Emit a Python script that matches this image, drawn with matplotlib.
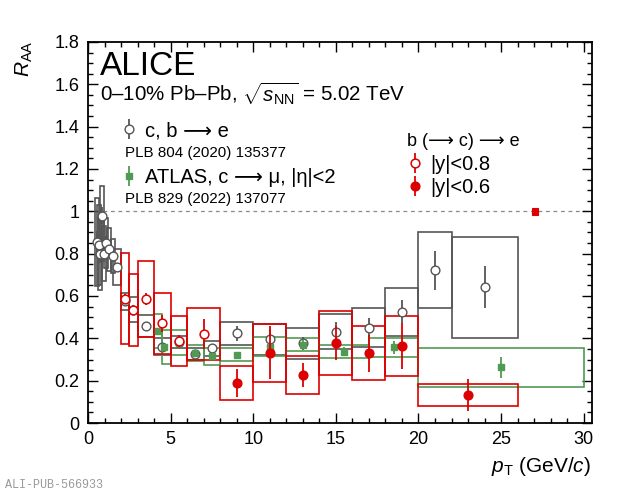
import numpy as np
import matplotlib
matplotlib.use("Agg")
import matplotlib.pyplot as plt
from matplotlib.patches import Rectangle
from matplotlib.ticker import MultipleLocator

plt.rcParams['font.family'] = ['Liberation Sans', 'DejaVu Sans']
plt.rcParams['mathtext.fontset'] = 'custom'
plt.rcParams['mathtext.rm'] = 'Liberation Sans'
plt.rcParams['mathtext.it'] = 'Liberation Sans:italic'
plt.rcParams['mathtext.bf'] = 'Liberation Sans:bold'

# ---------------------------------------------------------------------------
# Data
# ---------------------------------------------------------------------------

# ALICE c, b -> e  (PLB 804 (2020) 135377)
cb_pt   = [0.55, 0.65, 0.75, 0.85, 0.95, 1.1, 1.3, 1.5, 1.75, 2.25, 2.75, 3.5,
           4.5, 5.5, 6.5, 7.5, 9, 11, 13, 15, 17, 19, 21, 24]
cb_lo   = [0.43, 0.53, 0.63, 0.73, 0.83, 0.98, 1.18, 1.38, 1.5, 2.0, 2.5, 3.0,
           4.0, 5.0, 6.0, 7.0, 8, 10, 12, 14, 16, 18, 20, 22]
cb_hi   = [0.67, 0.77, 0.87, 0.97, 1.07, 1.22, 1.42, 1.62, 2.0, 2.5, 3.0, 4.0,
           5.0, 6.0, 7.0, 8.0, 10, 12, 14, 16, 18, 20, 22, 26]
cb_raa  = [0.855, 0.84, 0.80, 0.98, 0.80, 0.85, 0.82, 0.79, 0.735, 0.575, 0.535,
           0.458, 0.36, 0.382, 0.326, 0.353, 0.424, 0.395, 0.376, 0.431, 0.45,
           0.526, 0.721, 0.641]
cb_stat = [0.05, 0.05, 0.045, 0.04, 0.04, 0.035, 0.03, 0.03, 0.02, 0.02, 0.02,
           0.015, 0.015, 0.015, 0.015, 0.02, 0.035, 0.05, 0.03, 0.045, 0.045,
           0.055, 0.093, 0.1]
cb_sys  = [0.21, 0.19, 0.17, 0.14, 0.13, 0.12, 0.10, 0.08, 0.085, 0.04, 0.06,
           0.05, 0.04, 0.03, 0.03, 0.035, 0.055, 0.075, 0.072, 0.082, 0.093,
           0.114, 0.179, 0.239]

# ATLAS c -> mu, |eta|<2  (PLB 829 (2022) 137077)
at_pt   = [4.25, 4.6, 5.5, 6.5, 7.5, 9, 11, 13, 15.5, 18.5, 25]
at_lo   = [4.0, 4.5, 5.0, 6.0, 7.0, 8, 10, 12, 14, 17, 20]
at_hi   = [4.5, 5.0, 6.0, 7.0, 8.0, 10, 12, 14, 17, 20, 30]
at_raa  = [0.436, 0.36, 0.38, 0.33, 0.315, 0.323, 0.36, 0.37, 0.337, 0.357, 0.263]
at_stat = [0.01, 0.01, 0.01, 0.01, 0.01, 0.012, 0.015, 0.02, 0.02, 0.03, 0.05]
at_sys  = [0.08, 0.08, 0.06, 0.039, 0.04, 0.03, 0.045, 0.03, 0.03, 0.044, 0.092]

# ALICE b (-> c) -> e, |y|<0.8
b8_pt   = [2.25, 2.75, 3.5, 4.5, 5.5, 7.0]
b8_lo   = [2.0, 2.5, 3.0, 4.0, 5.0, 6.0]
b8_hi   = [2.5, 3.0, 4.0, 5.0, 6.0, 8.0]
b8_raa  = [0.586, 0.534, 0.586, 0.471, 0.387, 0.419]
b8_stat = [0.025, 0.025, 0.03, 0.04, 0.03, 0.07]
b8_sys  = [0.215, 0.17, 0.18, 0.145, 0.12, 0.122]

# ALICE b (-> c) -> e, |y|<0.6
b6_pt   = [9, 11, 13, 15, 17, 19, 23]
b6_lo   = [8, 10, 12, 14, 16, 18, 20]
b6_hi   = [10, 12, 14, 16, 18, 20, 26]
b6_raa  = [0.19, 0.332, 0.227, 0.379, 0.329, 0.364, 0.132]
b6_stat = [0.067, 0.126, 0.055, 0.079, 0.087, 0.11, 0.075]
b6_sys  = [0.08, 0.136, 0.09, 0.15, 0.128, 0.14, 0.05]

norm_pt  = 27.05
norm_unc = 0.018

GREY  = '#555555'
GREEN = '#519a51'
RED   = '#dd0000'
ARROW = '\u27f6'

# ---------------------------------------------------------------------------
# Plot
# ---------------------------------------------------------------------------

fig = plt.figure(figsize=(6.2, 4.94), dpi=100)
ax = fig.add_axes([88/620, 71/494, 504/620, 381/494])


def sys_boxes(lo, hi, y, sys, color, z):
    for l, h, v, s in zip(lo, hi, y, sys):
        ax.add_patch(Rectangle((l, v - s), h - l, 2 * s, fill=False,
                               edgecolor=color, lw=1.2, zorder=z))


sys_boxes(cb_lo, cb_hi, cb_raa, cb_sys, GREY, 2)
sys_boxes(at_lo, at_hi, at_raa, at_sys, GREEN, 2.2)
sys_boxes(b8_lo, b8_hi, b8_raa, b8_sys, RED, 2.4)
sys_boxes(b6_lo, b6_hi, b6_raa, b6_sys, RED, 2.4)

ax.axhline(1.0, color='#888888', lw=0.9, ls=(0, (3, 3)), zorder=1)
ax.add_patch(Rectangle((norm_pt - 0.2, 1 - norm_unc), 0.4, 2 * norm_unc,
                       facecolor=RED, edgecolor=RED, lw=0.8, zorder=3))

h_cb = ax.errorbar(cb_pt, cb_raa, yerr=cb_stat, fmt='o', ms=6.3, mfc='white',
                   mec=GREY, mew=1.0, ecolor=GREY, elinewidth=1.3, capsize=0,
                   zorder=4)
h_at = ax.errorbar(at_pt, at_raa, yerr=at_stat, fmt='s', ms=5, mfc=GREEN,
                   mec=GREEN, ecolor=GREEN, elinewidth=1.3, capsize=0, zorder=5)
h_b8 = ax.errorbar(b8_pt, b8_raa, yerr=b8_stat, fmt='o', ms=6.3, mfc='white',
                   mec=RED, mew=1.1, ecolor=RED, elinewidth=1.3, capsize=0,
                   zorder=6)
h_b6 = ax.errorbar(b6_pt, b6_raa, yerr=b6_stat, fmt='o', ms=6.3, mfc=RED,
                   mec=RED, ecolor=RED, elinewidth=1.3, capsize=0, zorder=6)

ax.set_xlim(0, 30.5)
ax.set_ylim(0, 1.8)
ax.xaxis.set_major_locator(MultipleLocator(5))
ax.xaxis.set_minor_locator(MultipleLocator(1))
ax.yaxis.set_major_locator(MultipleLocator(0.2))
ax.yaxis.set_minor_locator(MultipleLocator(0.05))
ax.set_yticks(np.arange(0, 1.81, 0.2))
ax.set_yticklabels(['0', '0.2', '0.4', '0.6', '0.8', '1', '1.2', '1.4', '1.6', '1.8'])
ax.tick_params(which='both', direction='in', top=True, right=True,
               labelsize=13, width=1.0)
ax.tick_params(which='major', length=7, pad=6)
ax.tick_params(which='minor', length=3.5)
for sp in ax.spines.values():
    sp.set_linewidth(1.3)

fig.text(24/620, 1 - 40/494, r'$R_{\mathrm{AA}}$', rotation=90, ha='center',
         va='top', fontsize=15)
fig.text(591/620, 1 - 472/494, r'$p_{\mathrm{T}}$ (GeV/$c$)', ha='right',
         va='baseline', fontsize=15)
fig.text(5/620, 1 - 488/494, 'ALI-PUB-566933', fontsize=8.5,
         family='Liberation Mono', color='#9a9a9a', va='baseline')

ax.text(0.024, 0.913, 'ALICE', transform=ax.transAxes, fontsize=24,
        va='baseline')
ax.text(0.024, 0.845, r'0–10% Pb–Pb, $\sqrt{s_{\mathrm{NN}}}$ = 5.02 TeV',
        transform=ax.transAxes, fontsize=14.8, va='baseline')

leg1 = ax.legend([h_cb, h_at],
                 [f'c, b {ARROW} e', f'ATLAS, c {ARROW} μ, |η|<2'],
                 loc='upper left', bbox_to_anchor=(0.0615, 0.792),
                 frameon=False, fontsize=14.5, borderpad=0, handlelength=1.0,
                 handletextpad=0.3, labelspacing=1.4, borderaxespad=0)
ax.add_artist(leg1)
ax.text(0.073, 0.708, 'PLB 804 (2020) 135377', transform=ax.transAxes,
        fontsize=10.9, va='center')
ax.text(0.073, 0.587, 'PLB 829 (2022) 137077', transform=ax.transAxes,
        fontsize=10.9, va='center')

ax.text(0.633, 0.74, f'b ({ARROW} c) {ARROW} e', transform=ax.transAxes,
        fontsize=13, va='center')
leg2 = ax.legend([h_b8, h_b6], ['|y|<0.8', '|y|<0.6'], loc='upper left',
                 bbox_to_anchor=(0.633, 0.703), frameon=False, fontsize=14.5,
                 borderpad=0, handlelength=0.8, handletextpad=0.35,
                 labelspacing=0.18, borderaxespad=0)

fig.savefig('out.png', dpi=100)
